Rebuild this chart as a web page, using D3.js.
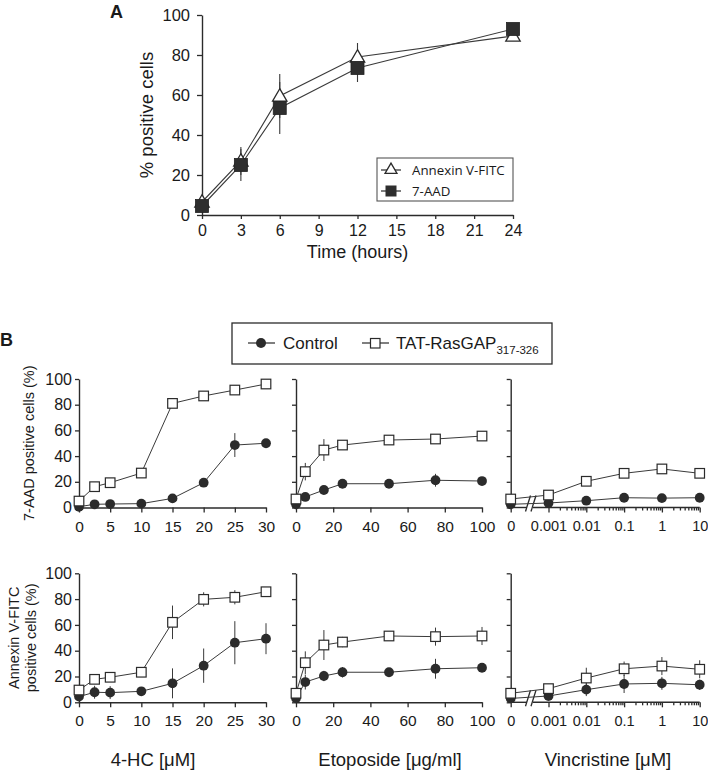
<!DOCTYPE html>
<html><head><meta charset="utf-8">
<script src="https://cdn.jsdelivr.net/npm/d3@7"></script>
<style>body{margin:0;background:#fff}svg{display:block}</style>
</head><body>
<svg id="chart" width="708" height="770"></svg>
<script>
// ---------- Panel A data ----------
const timeA = [0, 3, 6, 12, 24];
const annexinA = [6.5, 27, 59.5, 79, 89.5];
const annexinErrA = [2, 7, 11, 7, 1];
const aadA = [4.5, 25, 53.5, 73.5, 93];
const aadErrA = [2, 8, 13, 7, 1];
const timeTicksA = [0, 3, 6, 9, 12, 15, 18, 21, 24];
const pctTicks = [0, 20, 40, 60, 80, 100];

// ---------- Panel B data ----------
const hcDose = [0, 2.5, 5, 10, 15, 20, 25, 30];
const etoDose = [0, 5, 15, 25, 50, 75, 100];
const vinDose = [0, 0.001, 0.01, 0.1, 1, 10];
const hcTicks = [0, 5, 10, 15, 20, 25, 30];
const etoTicks = [0, 20, 40, 60, 80, 100];
const vinTicks = [0, 0.001, 0.01, 0.1, 1, 10];
const vinTickLabels = ["0", "0.001", "0.01", "0.1", "1", "10"];

// 7-AAD row
const aadHcCtrl = [0.6, 2.5, 2.7, 3, 7.1, 19.3, 48.6, 50];
const aadHcCtrlErr = [1, 1, 1, 1, 1.5, 2, 9.3, 2];
const aadHcTat = [5, 16.2, 19.3, 26.8, 81, 86.8, 91.4, 96.1];
const aadHcTatErr = [1, 1, 1, 1.5, 2, 2, 1.5, 1];
const aadEtoCtrl = [2.5, 8.2, 13.6, 18.5, 18.5, 21.2, 20.6];
const aadEtoCtrlErr = [1, 1, 1.5, 2, 1.5, 5, 2];
const aadEtoTat = [6.6, 27.9, 44.7, 48.6, 52.5, 53.3, 55.6];
const aadEtoTatErr = [1, 6.8, 8.5, 2, 2, 2, 1.5];
const aadVinCtrl = [2.5, 3.5, 5.3, 7.6, 7.3, 7.6];
const aadVinCtrlErr = [1, 1, 1.5, 1.5, 1.5, 1.5];
const aadVinTat = [6.6, 9.7, 20.4, 26.6, 30, 26.6];
const aadVinTatErr = [1, 1.5, 2, 2, 2, 2];

// Annexin V-FITC row
const annHcCtrl = [4.4, 7.8, 7.5, 8.5, 14.7, 28.4, 46.2, 49.3];
const annHcCtrlErr = [2, 5, 5, 2, 11.6, 13.3, 16.7, 12];
const annHcTat = [9.5, 17.8, 19.4, 23.3, 62, 79.8, 81.4, 85.7];
const annHcTatErr = [2, 2, 2, 2, 13, 5.5, 5.5, 3];
const annEtoCtrl = [3.1, 15.7, 20.4, 23.3, 23.3, 26, 26.8];
const annEtoCtrlErr = [1, 5.8, 4, 4, 2, 7.7, 3];
const annEtoTat = [7, 30.7, 44.4, 46.7, 51.4, 50.9, 51.4];
const annEtoTatErr = [2, 8.8, 11.6, 4, 2, 7, 7];
const annVinCtrl = [3, 4.9, 9.8, 14.2, 14.7, 13.6];
const annVinCtrlErr = [1, 2, 5, 7, 5, 4];
const annVinTat = [7, 10.6, 18.8, 26, 28.1, 25.6];
const annVinTatErr = [2, 2, 8, 5.6, 7, 7];

const FONT = "'Liberation Sans', Arial, sans-serif";
const INK = "#2b2b2b";
const LINE = "#3a3a3a";
const TXT = "#1a1a1a";
const svg = d3.select("#chart");
svg.append("rect").attr("width", 708).attr("height", 770).attr("fill", "#fff");

function styleAxis(g, fs) {
  g.selectAll("path.domain").attr("stroke", INK).attr("stroke-width", 1.4);
  g.selectAll(".tick line").attr("stroke", INK).attr("stroke-width", 1.3);
  g.selectAll("text").attr("fill", TXT).style("font-family", FONT).style("font-size", fs + "px");
}
function label(sel, fs) {
  return sel.style("font-family", FONT).style("font-size", fs + "px").attr("fill", TXT);
}

// ================= Panel A =================
const xA = d3.scaleLinear().domain([0, 24]).range([202, 513]);
const yA = d3.scaleLinear().domain([0, 100]).range([215, 15]);

svg.append("g").attr("transform", "translate(0,215)")
  .call(d3.axisBottom(xA).tickValues(timeTicksA).tickSize(4).tickPadding(6).tickSizeOuter(0))
  .call(g => styleAxis(g, 16));
svg.append("g").attr("transform", "translate(202,0)")
  .call(d3.axisLeft(yA).tickValues(pctTicks).tickSize(5).tickPadding(7).tickSizeOuter(0))
  .call(g => styleAxis(g, 16.5));

label(svg.append("text").attr("x", xA(12)).attr("y", 258).attr("text-anchor", "middle"), 18).text("Time (hours)");
label(svg.append("text").attr("transform", "translate(153," + yA(50) + ") rotate(-90)").attr("text-anchor", "middle"), 18.5)
  .text("% positive cells");
label(svg.append("text").attr("x", 110).attr("y", 18), 18).style("font-weight", "bold").text("A");

const lineA = d3.line().x(d => xA(d[0])).y(d => yA(d[1]));
const annPts = timeA.map((t, i) => [t, annexinA[i], annexinErrA[i]]);
const aadPts = timeA.map((t, i) => [t, aadA[i], aadErrA[i]]);
[annPts, aadPts].forEach(pts => {
  svg.append("path").datum(pts).attr("d", lineA).attr("fill", "none").attr("stroke", LINE).attr("stroke-width", 1.1);
  svg.append("g").selectAll("line").data(pts).join("line")
    .attr("x1", d => xA(d[0])).attr("x2", d => xA(d[0]))
    .attr("y1", d => yA(d[1] - d[2])).attr("y2", d => yA(d[1] + d[2]))
    .attr("stroke", LINE).attr("stroke-width", 1.1);
});
const triSym = d3.symbol(d3.symbolTriangle, 90);
svg.append("g").selectAll("path").data(annPts).join("path")
  .attr("d", triSym).attr("transform", d => `translate(${xA(d[0])},${yA(d[1]) + 1})`)
  .attr("fill", "#fff").attr("stroke", INK).attr("stroke-width", 1.3);
svg.append("g").selectAll("rect").data(aadPts).join("rect")
  .attr("x", d => xA(d[0]) - 6.5).attr("y", d => yA(d[1]) - 6.5).attr("width", 13).attr("height", 13)
  .attr("fill", "#2e2e2e").attr("stroke", "#222").attr("stroke-width", 0.8);

// legend A
const legA = svg.append("g");
legA.append("rect").attr("x", 377).attr("y", 158).attr("width", 136).attr("height", 43)
  .attr("fill", "#fff").attr("stroke", "#555").attr("stroke-width", 1.1);
[["Annexin V-FITC", 170, "tri"], ["7-AAD", 191, "sq"]].forEach(([lab, y, m]) => {
  legA.append("line").attr("x1", 381).attr("x2", 401).attr("y1", y).attr("y2", y).attr("stroke", INK).attr("stroke-width", 1.2);
  if (m === "tri") legA.append("path").attr("d", d3.symbol(d3.symbolTriangle, 62)).attr("transform", `translate(391,${y})`)
    .attr("fill", "#fff").attr("stroke", INK).attr("stroke-width", 1.3);
  else legA.append("rect").attr("x", 385.5).attr("y", y - 5.5).attr("width", 11).attr("height", 11).attr("fill", "#2e2e2e");
  legA.append("text").attr("x", 412).attr("y", y + 5).style("font-family", "'Open Sans', sans-serif")
    .style("font-size", "13.3px").attr("fill", TXT).text(lab);
});

// ================= Panel B =================
label(svg.append("text").attr("x", 0).attr("y", 346), 18).style("font-weight", "bold").text("B");

// legend B
const legB = svg.append("g");
legB.append("rect").attr("x", 232).attr("y", 323).attr("width", 320).attr("height", 41)
  .attr("fill", "#fff").attr("stroke", INK).attr("stroke-width", 1.3);
legB.append("line").attr("x1", 248).attr("x2", 275).attr("y1", 343).attr("y2", 343).attr("stroke", INK).attr("stroke-width", 1.2);
legB.append("circle").attr("cx", 261).attr("cy", 343).attr("r", 5).attr("fill", INK);
label(legB.append("text").attr("x", 283).attr("y", 349), 17).text("Control");
legB.append("line").attr("x1", 362).attr("x2", 389).attr("y1", 343).attr("y2", 343).attr("stroke", INK).attr("stroke-width", 1.2);
legB.append("rect").attr("x", 370.5).attr("y", 338.5).attr("width", 9.5).attr("height", 9.5)
  .attr("fill", "#fff").attr("stroke", INK).attr("stroke-width", 1.2);
const tatLab = label(legB.append("text").attr("x", 396).attr("y", 349), 17);
tatLab.append("tspan").text("TAT-RasGAP");
tatLab.append("tspan").attr("dy", 5).style("font-size", "11.5px").text("317-326");

// scales for B
const rows = [
  { y: d3.scaleLinear().domain([0, 100]).range([507.5, 379]) },
  { y: d3.scaleLinear().domain([0, 100]).range([702.3, 573.3]) }
];
const xHc = d3.scaleLinear().domain([0, 30]).range([79, 266]);
const xEto = d3.scaleLinear().domain([0, 100]).range([296, 482]);
const xVinLog = d3.scaleLog().domain([1e-4, 10]).range([510.7, 699.7]);
const xVin = d => xVinLog(d === 0 ? 1e-4 : d);

const panels = [
  { row: 0, col: 0, dose: hcDose, ctrl: aadHcCtrl, ctrlErr: aadHcCtrlErr, tat: aadHcTat, tatErr: aadHcTatErr },
  { row: 0, col: 1, dose: etoDose, ctrl: aadEtoCtrl, ctrlErr: aadEtoCtrlErr, tat: aadEtoTat, tatErr: aadEtoTatErr },
  { row: 0, col: 2, dose: vinDose, ctrl: aadVinCtrl, ctrlErr: aadVinCtrlErr, tat: aadVinTat, tatErr: aadVinTatErr },
  { row: 1, col: 0, dose: hcDose, ctrl: annHcCtrl, ctrlErr: annHcCtrlErr, tat: annHcTat, tatErr: annHcTatErr },
  { row: 1, col: 1, dose: etoDose, ctrl: annEtoCtrl, ctrlErr: annEtoCtrlErr, tat: annEtoTat, tatErr: annEtoTatErr },
  { row: 1, col: 2, dose: vinDose, ctrl: annVinCtrl, ctrlErr: annVinCtrlErr, tat: annVinTat, tatErr: annVinTatErr }
];
const xFns = [xHc, xEto, xVin];
const axisLeftX = [79, 296, 510.7];
const TFS = 15.5;

panels.forEach(p => {
  const y = rows[p.row].y;
  const x = xFns[p.col];
  const y0 = y(0);
  const g = svg.append("g");
  const ya = d3.axisLeft(y).tickValues(pctTicks).tickSize(4).tickPadding(3).tickSizeOuter(0);
  if (p.col > 0) ya.tickFormat("");
  g.append("g").attr("transform", `translate(${axisLeftX[p.col]},0)`).call(ya).call(gg => styleAxis(gg, 16));
  if (p.col === 0) {
    g.append("g").attr("transform", `translate(0,${y0})`)
      .call(d3.axisBottom(xHc).tickValues(hcTicks).tickSize(5).tickPadding(8).tickSizeOuter(0)).call(gg => styleAxis(gg, TFS));
  } else if (p.col === 1) {
    g.append("g").attr("transform", `translate(0,${y0})`)
      .call(d3.axisBottom(xEto).tickValues(etoTicks).tickSize(5).tickPadding(8).tickSizeOuter(0)).call(gg => styleAxis(gg, TFS));
  } else {
    const major = g.append("g").attr("transform", `translate(0,${y0})`)
      .call(d3.axisBottom(xVinLog).tickValues(vinTicks.map(v => v === 0 ? 1e-4 : v))
        .tickFormat((d, i) => vinTickLabels[i]).tickSize(5).tickPadding(8).tickSizeOuter(0))
      .call(gg => styleAxis(gg, 14.5));
    major.select("path.domain").remove();
    const minors = [];
    [0.001, 0.01, 0.1, 1].forEach(dec => { for (let k = 2; k <= 9; k++) minors.push(dec * k); });
    const mg = g.append("g").attr("transform", `translate(0,${y0})`)
      .call(d3.axisBottom(xVinLog).tickValues(minors).tickFormat("").tickSize(3).tickSizeOuter(0))
      .call(gg => styleAxis(gg, 14));
    mg.select("path.domain").remove();
    g.append("line").attr("x1", xVin(0)).attr("x2", 527).attr("y1", y0).attr("y2", y0).attr("stroke", INK).attr("stroke-width", 1.4);
    g.append("line").attr("x1", 533).attr("x2", xVin(10)).attr("y1", y0).attr("y2", y0).attr("stroke", INK).attr("stroke-width", 1.4);
    g.append("line").attr("x1", 525.5).attr("x2", 530.5).attr("y1", y0 + 4).attr("y2", y0 - 12).attr("stroke", INK).attr("stroke-width", 1.3);
    g.append("line").attr("x1", 531).attr("x2", 536).attr("y1", y0 + 4).attr("y2", y0 - 12).attr("stroke", INK).attr("stroke-width", 1.3);
  }
  const ctrlPts = p.dose.map((d, i) => [d, p.ctrl[i], p.ctrlErr[i]]);
  const tatPts = p.dose.map((d, i) => [d, p.tat[i], p.tatErr[i]]);
  const ln = d3.line().x(d => x(d[0])).y(d => y(d[1]));
  [ctrlPts, tatPts].forEach(pts => {
    g.append("path").datum(pts).attr("d", ln).attr("fill", "none").attr("stroke", LINE).attr("stroke-width", 1);
    g.append("g").selectAll("line").data(pts).join("line")
      .attr("x1", d => x(d[0])).attr("x2", d => x(d[0]))
      .attr("y1", d => y(Math.max(0, d[1] - d[2]))).attr("y2", d => y(d[1] + d[2]))
      .attr("stroke", LINE).attr("stroke-width", 1);
  });
  g.append("g").selectAll("circle").data(ctrlPts).join("circle")
    .attr("cx", d => x(d[0])).attr("cy", d => y(d[1])).attr("r", 4.9).attr("fill", INK);
  g.append("g").selectAll("rect").data(tatPts).join("rect")
    .attr("x", d => x(d[0]) - 4.8).attr("y", d => y(d[1]) - 4.8).attr("width", 9.6).attr("height", 9.6)
    .attr("fill", "#fff").attr("stroke", INK).attr("stroke-width", 1.2);
});

// y labels for B
label(svg.append("text").attr("transform", `translate(34,${rows[0].y(50)}) rotate(-90)`).attr("text-anchor", "middle"), 14.5)
  .text("7-AAD positive cells (%)");
const yl2 = label(svg.append("text").attr("transform", `translate(0,${rows[1].y(50)}) rotate(-90)`).attr("text-anchor", "middle"), 14.5);
yl2.append("tspan").attr("x", 0).attr("y", 19).text("Annexin V-FITC");
yl2.append("tspan").attr("x", 0).attr("y", 36).text("positive cells (%)");

// x titles for B
[["4-HC [\u03bcM]", 153], ["Etoposide [\u03bcg/ml]", 390], ["Vincristine [\u03bcM]", 608]].forEach(([t, cx]) => {
  label(svg.append("text").attr("x", cx).attr("y", 766).attr("text-anchor", "middle"), 18.5).text(t);
});
</script>
</body></html>
